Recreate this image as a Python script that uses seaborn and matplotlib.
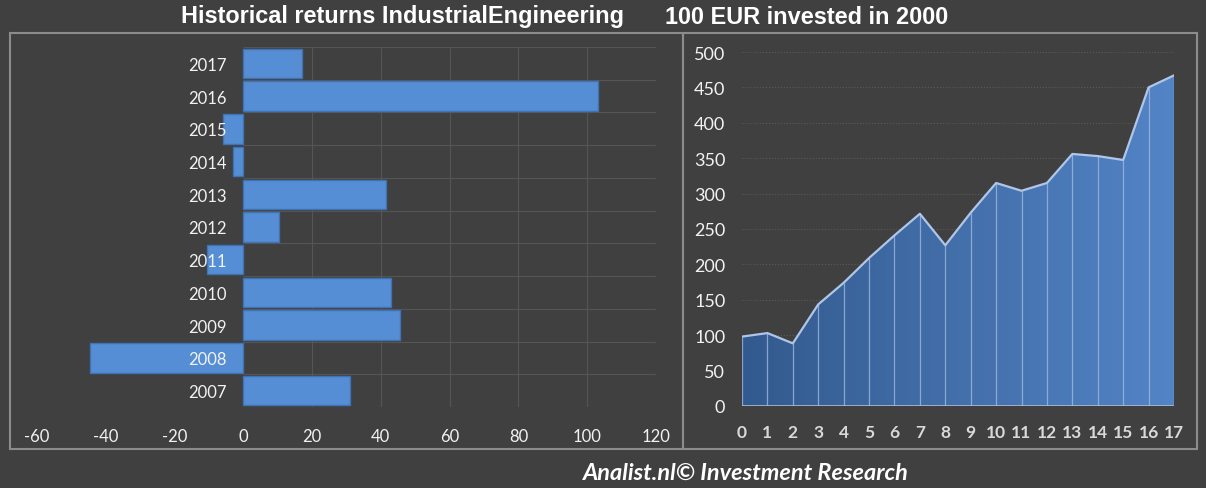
import matplotlib
matplotlib.use("Agg")
import matplotlib.pyplot as plt
import numpy as np
import seaborn as sns
from matplotlib.colors import LinearSegmentedColormap
from matplotlib.patches import Rectangle, PathPatch

# data
years = [2007, 2008, 2009, 2010, 2011, 2012, 2013, 2014, 2015, 2016, 2017]
returns = [31, -44.5, 45.5, 43, -10.5, 10.5, 41.5, -3, -6, 103, 17]
return_ticks = [-60, -40, -20, 0, 20, 40, 60, 80, 100, 120]

periods = list(range(18))
invested = [98, 103, 88.5, 143.5, 174, 209, 241, 271.5, 227, 273,
            315, 304, 315, 356, 353, 347.5, 450, 467]
value_ticks = [0, 50, 100, 150, 200, 250, 300, 350, 400, 450, 500]

BG = "#404040"
sns.set_style("dark", {"axes.facecolor": BG, "figure.facecolor": BG})
plt.rcParams["font.family"] = ["Lato", "DejaVu Sans"]

fig = plt.figure(figsize=(12.06, 4.89), dpi=100)
fig.patch.set_facecolor(BG)

# panel frames
fig.add_artist(Rectangle((10 / 1206, 1 - 450 / 489), 673 / 1206, 416 / 489,
                         transform=fig.transFigure, fill=False,
                         edgecolor="#8c8c8c", lw=1.5))
fig.add_artist(Rectangle((683 / 1206, 1 - 450 / 489), 514 / 1206, 416 / 489,
                         transform=fig.transFigure, fill=False,
                         edgecolor="#8c8c8c", lw=1.5))

# ---- left: yearly returns ----
ax1 = fig.add_axes([37 / 1206, 1 - 408 / 489, 619 / 1206, 360 / 489])
ax1.set_facecolor(BG)
labels = [str(y) for y in years]
sns.barplot(x=returns, y=labels, order=labels[::-1], orient="h",
            color="#558ed5", saturation=1, width=0.9,
            edgecolor="#3f73b5", linewidth=1, ax=ax1, zorder=2)
ax1.set_xlim(-60, 120)
ax1.set_ylim(10.5, -0.5)
ax1.set_xticks(return_ticks)
ax1.set_xticklabels([str(t) for t in return_ticks])
ax1.vlines([t for t in return_ticks if t > 0], -0.5, 10.5,
           color="#555555", lw=0.8, zorder=0)
ax1.hlines(np.arange(-0.5, 11, 1), 0, 120, color="#555555", lw=0.8, zorder=0)
ax1.spines["left"].set_position(("data", 0))
for s in ax1.spines.values():
    s.set_visible(False)
ax1.yaxis.set_zorder(5)
ax1.tick_params(axis="x", length=0, pad=15, labelsize=12, labelcolor="#f2f2f2")
ax1.tick_params(axis="y", length=0, pad=12, labelsize=12, labelcolor="#f2f2f2")
ax1.set_xlabel("")
ax1.set_ylabel("")
ax1.grid(False)

# ---- right: 100 EUR invested ----
ax2 = fig.add_axes([742 / 1206, 1 - 407 / 489, 432 / 1206, 354 / 489])
ax2.set_facecolor(BG)
cmap = LinearSegmentedColormap.from_list("blues", ["#335a8e", "#5384c6"])
grad = ax2.imshow(np.linspace(0, 1, 256).reshape(1, -1), cmap=cmap,
                  extent=[0, 17, 0, 500], aspect="auto", zorder=1)
area = ax2.fill_between(periods, invested, 0, facecolor="none", edgecolor="none")
clip = PathPatch(area.get_paths()[0], transform=ax2.transData,
                 facecolor="none", edgecolor="none")
ax2.add_patch(clip)
grad.set_clip_path(clip)
ax2.vlines(periods, 0, invested, color="#9db8e0", lw=0.9, alpha=0.8, zorder=2)
sns.lineplot(x=periods, y=invested, color="#b0c6e8", lw=1.6, ax=ax2, zorder=3)
ax2.axhline(0, color="#a8bcd8", lw=1.2, zorder=3)
ax2.set_xlim(0, 17)
ax2.set_ylim(0, 500)
ax2.set_xticks(periods)
ax2.set_xticklabels([str(p) for p in periods], fontweight="bold")
ax2.set_yticks(value_ticks)
ax2.set_yticklabels([str(v) for v in value_ticks])
ax2.grid(False)
for v in value_ticks[1:]:
    ax2.axhline(v, color="#5a5a5a", lw=0.8, ls=":", zorder=0)
for s in ax2.spines.values():
    s.set_visible(False)
ax2.tick_params(axis="x", length=0, pad=13, labelsize=12.5, labelcolor="#d9d9d9")
ax2.tick_params(axis="y", length=0, pad=12, labelsize=13, labelcolor="#f2f2f2")
ax2.set_xlabel("")
ax2.set_ylabel("")

# titles
fig.text(624 / 1206, 1 - 17 / 489, "Historical returns IndustrialEngineering",
         ha="right", va="center", color="white", fontsize=16.9, fontweight="bold",
         family=["Liberation Sans", "DejaVu Sans"])
fig.text(665 / 1206, 1 - 17 / 489, "100 EUR invested in 2000",
         ha="left", va="center", color="white", fontsize=16.9, fontweight="bold",
         family=["Liberation Sans", "DejaVu Sans"])
fig.text(746 / 1206, 1 - 473 / 489, "Analist.nl\u00a9 Investment Research",
         ha="center", va="center", color="white", fontsize=16.9,
         fontweight="bold", fontstyle="italic")

fig.savefig("out.png", dpi=100, facecolor=BG)
